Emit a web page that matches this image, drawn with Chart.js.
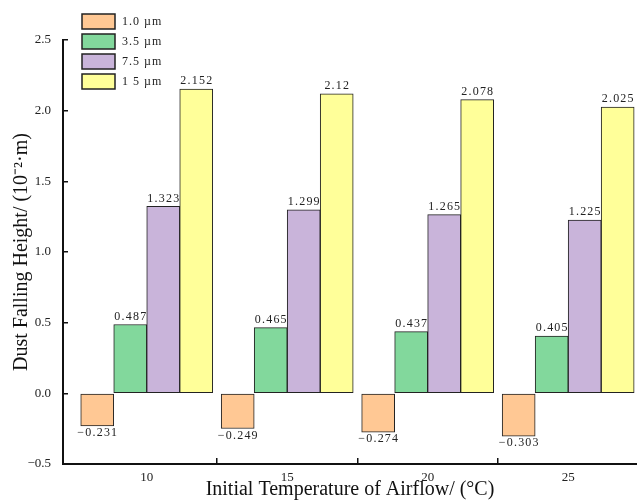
<!DOCTYPE html>
<html>
<head>
<meta charset="utf-8">
<script src="https://cdn.jsdelivr.net/npm/chart.js@4/dist/chart.umd.min.js"></script>
<style>
  html, body { margin: 0; padding: 0; background: #fff; overflow: hidden; }
  #wrap { position: relative; width: 637px; height: 501px; }
</style>
</head>
<body>
<div id="wrap"><canvas id="c"></canvas></div>
<script>
// Initial airflow temperature (°C)
const temperatures = [10, 15, 20, 25];
// Particle sizes
const sizeLabels = ['1.0 µm', '3.5 µm', '7.5 µm', '1 5 µm'];
// Dust falling height (10^-2 m) for each particle size
const height_1_0 = [-0.231, -0.249, -0.274, -0.303];
const height_3_5 = [0.487, 0.465, 0.437, 0.405];
const height_7_5 = [1.323, 1.299, 1.265, 1.225];
const height_15 = [2.152, 2.12, 2.078, 2.025];
// Y axis ticks
const yTicks = [-0.5, 0.0, 0.5, 1.0, 1.5, 2.0, 2.5];

const fillColors = ['#FFC894', '#82D89C', '#C9B4DA', '#FFFF99'];
const SERIF = '"Liberation Serif", "Times New Roman", serif';
const minus = s => s.replace('-', '\u2212');

const series = [height_1_0, height_3_5, height_7_5, height_15];

// Value labels above (or below) each bar
const valueLabels = {
  id: 'valueLabels',
  afterDatasetsDraw(chart) {
    const ctx = chart.ctx;
    ctx.save();
    ctx.font = '12px ' + SERIF;
    ctx.letterSpacing = '1.2px';
    ctx.fillStyle = '#222';
    ctx.textAlign = 'center';
    chart.data.datasets.forEach((ds, di) => {
      const meta = chart.getDatasetMeta(di);
      meta.data.forEach((bar, i) => {
        const v = series[di][i];
        const txt = minus(String(v));
        if (v >= 0) {
          ctx.textBaseline = 'bottom';
          ctx.fillText(txt, bar.x + 0.6, bar.y - 2);
        } else {
          ctx.textBaseline = 'top';
          ctx.fillText(txt, bar.x + 0.6, bar.y + 1);
        }
      });
    });
    ctx.restore();
  }
};

// Vertical legend in the upper-left corner
const boxLegend = {
  id: 'boxLegend',
  afterDraw(chart) {
    const ctx = chart.ctx;
    ctx.save();
    ctx.font = '12px ' + SERIF;
    ctx.letterSpacing = '1px';
    ctx.textBaseline = 'middle';
    ctx.textAlign = 'left';
    chart.data.datasets.forEach((ds, i) => {
      const top = 14 + i * 20;
      ctx.fillStyle = ds.backgroundColor;
      ctx.fillRect(82, top, 33, 15);
      ctx.lineWidth = 1.5;
      ctx.strokeStyle = '#222';
      ctx.strokeRect(82, top, 33, 15);
      ctx.fillStyle = '#222';
      ctx.fillText(ds.label, 122, top + 7.5);
    });
    ctx.restore();
  }
};

new Chart(document.getElementById('c'), {
  type: 'bar',
  data: {
    labels: temperatures,
    datasets: series.map((vals, i) => ({
      label: sizeLabels[i],
      data: vals,
      backgroundColor: fillColors[i],
      borderColor: '#222',
      borderWidth: 1,
      borderSkipped: false,
      barThickness: 33
    }))
  },
  options: {
    responsive: true,
    maintainAspectRatio: false,
    animation: false,
    layout: { padding: { top: 40, right: 0, bottom: 0, left: 0 } },
    plugins: {
      legend: { display: false },
      tooltip: { enabled: false }
    },
    scales: {
      x: {
        type: 'linear',
        min: 7.02,
        max: 27.45,
        offset: false,
        afterBuildTicks(scale) {
          const t = [];
          temperatures.forEach((v, i) => {
            t.push({ value: v });
            if (i < temperatures.length - 1) t.push({ value: (v + temperatures[i + 1]) / 2 });
          });
          scale.ticks = t;
        },
        afterFit(scale) { scale.height = 37; },
        border: { display: true, color: '#111', width: 2 },
        grid: {
          display: true,
          offset: false,
          drawOnChartArea: false,
          drawTicks: true,
          tickLength: -6,
          lineWidth: 1.5,
          tickColor: c => (c.tick && temperatures.includes(c.tick.value)) ? 'rgba(0,0,0,0)' : '#111'
        },
        ticks: {
          autoSkip: false,
          maxRotation: 0,
          padding: 12,
          color: '#222',
          font: { family: SERIF, size: 13 },
          callback: v => temperatures.includes(v) ? String(v) : ''
        },
        title: {
          display: true,
          text: 'Initial Temperature of Airflow/ (°C)',
          color: '#111',
          font: { family: SERIF, size: 20, lineHeight: 1 },
          padding: { top: 0, bottom: 1 }
        }
      },
      y: {
        min: -0.5,
        max: 2.5,
        afterBuildTicks(scale) { scale.ticks = yTicks.map(v => ({ value: v })); },
        afterFit(scale) { scale.width = 63; },
        border: { display: true, color: '#111', width: 2 },
        grid: {
          display: true,
          drawOnChartArea: false,
          drawTicks: true,
          tickLength: -5,
          lineWidth: 1.5,
          tickColor: '#111'
        },
        ticks: {
          padding: 17,
          color: '#222',
          font: { family: SERIF, size: 13 },
          callback: v => minus(v.toFixed(1))
        },
        title: {
          display: true,
          text: 'Dust Falling Height/ (10⁻²·m)',
          color: '#111',
          font: { family: SERIF, size: 20 },
          padding: { top: 10, bottom: 0 }
        }
      }
    }
  },
  plugins: [valueLabels, boxLegend]
});
</script>
</body>
</html>
